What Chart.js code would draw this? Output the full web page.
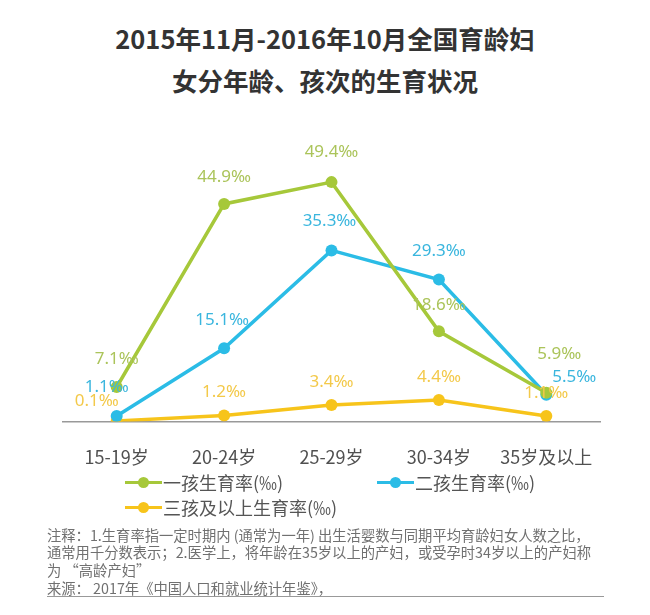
<!DOCTYPE html>
<html>
<head>
<meta charset="utf-8">
<script src="https://cdn.jsdelivr.net/npm/chart.js@4.4.1/dist/chart.umd.min.js"></script>
<style>
  body { margin: 0; background: #fff; font-family: "Noto Sans CJK SC", sans-serif; }
  #wrap { position: relative; width: 650px; height: 615px; overflow: hidden; }
  #chartBox { position: absolute; left: 0; top: 0; width: 650px; height: 506px; }
  .title { position: absolute; left: 0; width: 650px; text-align: center; font-size: 25.5px; font-weight: 700; color: #333; line-height: 30px; }
  .leg { position: absolute; font-size: 18px; color: #555; line-height: 22px; white-space: nowrap; }
  .leg .mk { position: absolute; left: -38px; top: 10px; width: 37px; height: 3px; }
  .leg .dot { position: absolute; left: 12.5px; top: -4px; width: 11px; height: 11px; border-radius: 50%; }
  .note { position: absolute; left: 47px; font-size: 14.3px; color: #707070; line-height: 18px; white-space: nowrap; }
</style>
</head>
<body>
<div id="wrap">
  <div class="title" style="top:23px">2015年11月-2016年10月全国育龄妇</div>
  <div class="title" style="top:65px">女分年龄、孩次的生育状况</div>
  <div id="chartBox"><canvas id="myChart"></canvas></div>
  <div id="legend"></div>
  <div class="note" style="top:526px">注释：1.生育率指一定时期内 (通常为一年) 出生活婴数与同期平均育龄妇女人数之比，</div>
  <div class="note" style="top:543px">通常用千分数表示；2.医学上，将年龄在35岁以上的产妇，或受孕时34岁以上的产妇称</div>
  <div class="note" style="top:561px">为 “高龄产妇”</div>
  <div class="note" style="top:579px; width:557px; border-bottom:1.5px solid #999; line-height:17px;">来源： 2017年《中国人口和就业统计年鉴》，</div>
</div>
<script>
// categories and series (‰)
const ageGroups = ['15-19岁', '20-24岁', '25-29岁', '30-34岁', '35岁及以上'];
const seriesNames = ['一孩生育率(‰)', '二孩生育率(‰)', '三孩及以上生育率(‰)'];
const firstChild = [7.1, 44.9, 49.4, 18.6, 5.9];
const secondChild = [1.1, 15.1, 35.3, 29.3, 5.5];
const thirdChild = [0.1, 1.2, 3.4, 4.4, 1.1];

const lineColors = ['#a6c83a', '#2bbce6', '#f7c41b'];
const labelColors = ['#abc45a', '#3ab6de', '#f3c94a'];

// label offsets [dx, dy] from each point
const labelOffsets = [
  [[0, -28], [0, -27], [0, -30], [0, -26], [13, -39]],
  [[-10, -29], [-2, -28], [-2, -29], [0, -28], [28, -18]],
  [[-20, -20], [0, -23], [0, -23], [0, -23], [0, -23]]
];

const pointLabels = {
  id: 'pointLabels',
  afterDatasetsDraw(chart) {
    const ctx = chart.ctx;
    ctx.save();
    ctx.font = '17px "Noto Sans", "Noto Sans CJK SC", sans-serif';
    ctx.textAlign = 'center';
    ctx.textBaseline = 'middle';
    // yellow first, green last so green sits on top
    [2, 1, 0].forEach(di => {
      const meta = chart.getDatasetMeta(di);
      ctx.fillStyle = labelColors[di];
      meta.data.forEach((pt, i) => {
        const off = labelOffsets[di][i];
        const v = chart.data.datasets[di].data[i];
        ctx.fillText(v.toFixed(1) + '‰', pt.x + off[0], pt.y + off[1]);
      });
    });
    ctx.restore();
  }
};

function makeSet(label, data, color) {
  return {
    label: label,
    data: data,
    borderColor: color,
    backgroundColor: color,
    borderWidth: 3.5,
    pointRadius: 6,
    pointHoverRadius: 6,
    pointBorderWidth: 0,
    tension: 0
  };
}

const ctx = document.getElementById('myChart').getContext('2d');
const myChart = new Chart(ctx, {
  type: 'line',
  data: {
    labels: ageGroups,
    datasets: [
      makeSet(seriesNames[0], firstChild, lineColors[0]),
      makeSet(seriesNames[1], secondChild, lineColors[1]),
      makeSet(seriesNames[2], thirdChild, lineColors[2])
    ]
  },
  options: {
    responsive: true,
    maintainAspectRatio: false,
    animation: false,
    layout: { padding: { left: 63, right: 50, top: 155, bottom: 13 } },
    plugins: { legend: { display: false }, tooltip: { enabled: false } },
    scales: {
      x: {
        offset: true,
        grid: { display: false, drawTicks: false },
        border: { display: true, color: '#999', width: 1.5 },
        ticks: { color: '#505050', padding: 25, font: { size: 18, family: '"Noto Sans CJK SC", sans-serif' } }
      },
      y: { display: false, min: 0, max: 55 }
    }
  },
  plugins: [pointLabels]
});

// html legend built from series names
const legendPos = [[163, 471], [415, 471], [163, 496]];
const legend = document.getElementById('legend');
seriesNames.forEach((name, i) => {
  const d = document.createElement('div');
  d.className = 'leg';
  d.style.left = legendPos[i][0] + 'px';
  d.style.top = legendPos[i][1] + 'px';
  d.innerHTML = '<span class="mk" style="background:' + lineColors[i] + '"><span class="dot" style="background:' + lineColors[i] + '"></span></span>' + name;
  legend.appendChild(d);
});
</script>
</body>
</html>
